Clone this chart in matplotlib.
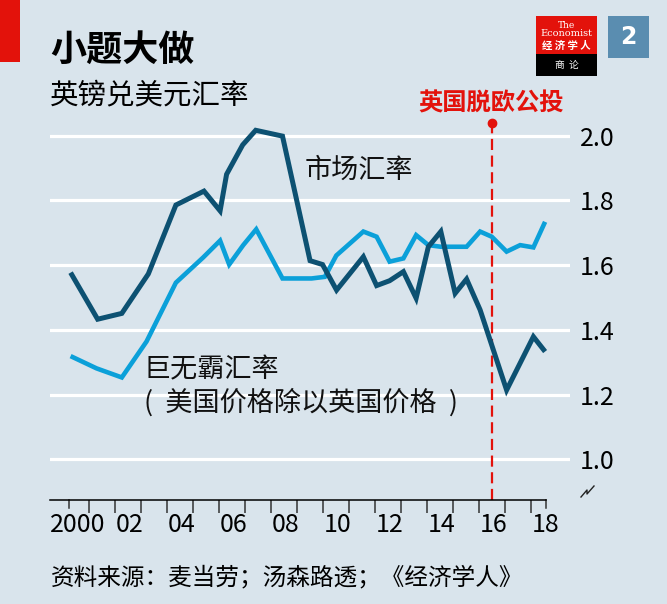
import numpy as np
import matplotlib
matplotlib.use("Agg")
import matplotlib.pyplot as plt
from matplotlib.patches import Rectangle
from matplotlib.lines import Line2D

plt.rcParams['font.family'] = ['Noto Sans CJK SC', 'DejaVu Sans']

# market exchange rate, $ per £
years_market = [2000.28, 2001.32, 2002.25, 2003.27, 2004.33, 2005.41, 2006.03,
                2006.28, 2006.9, 2007.4, 2008.43, 2009.49, 2009.97, 2010.51,
                2011.54, 2012.05, 2012.55, 2013.08, 2013.57, 2014.04, 2014.52,
                2015.07, 2015.51, 2016.03, 2017.05, 2018.08, 2018.53]
market = [1.577, 1.433, 1.451, 1.573, 1.786, 1.829, 1.768,
          1.881, 1.972, 2.017, 1.999, 1.614, 1.602, 1.523,
          1.626, 1.537, 1.552, 1.580, 1.498, 1.657, 1.704,
          1.513, 1.557, 1.462, 1.214, 1.379, 1.333]

# Big Mac implied rate (US price / UK price)
years_bigmac = [2000.28, 2001.28, 2002.25, 2003.2, 2004.33, 2005.38, 2006.03,
                2006.38, 2006.92, 2007.42, 2008.43, 2009.55, 2010.06, 2010.5,
                2011.54, 2012.05, 2012.55, 2013.08, 2013.57, 2014.04, 2014.52,
                2015.07, 2015.51, 2016.03, 2016.48, 2017.05, 2017.57, 2018.08,
                2018.53]
bigmac = [1.319, 1.281, 1.253, 1.364, 1.546, 1.624, 1.676,
          1.602, 1.662, 1.711, 1.559, 1.559, 1.564, 1.630,
          1.704, 1.688, 1.611, 1.621, 1.693, 1.662, 1.657,
          1.657, 1.657, 1.704, 1.688, 1.642, 1.662, 1.655,
          1.734]

brexit_vote = 2016.47
y_ticks = [1.0, 1.2, 1.4, 1.6, 1.8, 2.0]
x_label_years = list(range(2000, 2019, 2))
x_labels = ["2000", "02", "04", "06", "08", "10", "12", "14", "16", "18"]

BG = "#d9e4ec"
DARK = "#0d5172"
LIGHT = "#0ba0d9"
RED = "#e3120b"

W, H = 667, 604
fig = plt.figure(figsize=(W / 100, H / 100), dpi=100, facecolor=BG)


def fx(px):
    return px / W


def fy(py):
    return 1 - py / H


ax = fig.add_axes([fx(50), fy(500), fx(570) - fx(50), fy(120) - fy(500)])
ax.set_facecolor(BG)
ax.set_xlim(1999.488, 2019.488)
ax.set_ylim(0.8742, 2.0488)

for v in y_ticks:
    ax.axhline(v, color="white", lw=2.3, zorder=1)

ax.plot(years_bigmac, bigmac, color=LIGHT, lw=3.3, zorder=3,
        solid_capstyle="butt", solid_joinstyle="miter")
ax.plot(years_market, market, color=DARK, lw=3.6, zorder=4,
        solid_capstyle="butt", solid_joinstyle="miter")

# Brexit referendum marker
ax.plot([brexit_vote, brexit_vote], [0.8742, 2.0396], color=RED, lw=1.6,
        ls=(0, (5, 2.5)), zorder=2, clip_on=False)
ax.plot(brexit_vote, 2.0396, "o", color=RED, ms=6, zorder=5, clip_on=False)
ax.text(brexit_vote, 2.10, "英国脱欧公投", color=RED, fontsize=17.5,
        fontweight="bold", ha="center", va="center")

ax.text(2009.3, 1.894, "市场汇率", fontsize=19.5, ha="left", va="center",
        color="#111111")
ax.text(2003.1, 1.276, "巨无霸汇率", fontsize=19.5, ha="left", va="center",
        color="#111111")
ax.text(2003.1, 1.174, "(  美国价格除以英国价格  )", fontsize=19.5, ha="left",
        va="center", color="#111111")

# axes and ticks
for s in ["top", "left", "right"]:
    ax.spines[s].set_visible(False)
ax.spines["bottom"].set_bounds(1999.488, 2018.57)
ax.spines["bottom"].set_linewidth(1.1)
ax.set_xticks(list(range(2001, 2019)))
ax.set_xticklabels([])
ax.tick_params(axis="x", which="major", length=9, width=1.1, color="#333333")
ax.set_xticks([y + 0.55 for y in x_label_years], minor=True)
ax.set_xticklabels(x_labels, minor=True, fontsize=18)
ax.tick_params(axis="x", which="minor", length=0, pad=9)
# short end ticks
for xe in [2000.23, 2018.57]:
    ax.plot([xe, xe], [0.8742, 0.8742 - 0.026], color="#333333", lw=1.1,
            clip_on=False)

ax.yaxis.tick_right()
ax.set_yticks(y_ticks)
ax.set_yticklabels([f"{v:.1f}" for v in y_ticks], fontsize=18)
ax.tick_params(axis="y", length=0, pad=7)

# axis break mark
fig.add_artist(Line2D([fx(581), fx(587), fx(587), fx(594)],
                      [fy(497), fy(490), fy(494), fy(486)],
                      color="#222222", lw=1.0))

# header
fig.add_artist(Rectangle((0, fy(62)), fx(20), fy(0) - fy(62), color=RED, lw=0))
fig.text(fx(50), fy(50), "小题大做", fontsize=26, fontweight="bold",
         ha="left", va="center")
fig.text(fx(50), fy(95), "英镑兑美元汇率", fontsize=20.5, ha="left",
         va="center")

# logo
fig.add_artist(Rectangle((fx(536), fy(54)), fx(61), fy(16) - fy(54),
                         color=RED, lw=0))
fig.add_artist(Rectangle((fx(536), fy(76)), fx(61), fy(54) - fy(76),
                         color="black", lw=0))
fig.text(fx(566.5), fy(25), "The", color="white", fontsize=6.5,
         family="DejaVu Serif", ha="center", va="center")
fig.text(fx(566.5), fy(34), "Economist", color="white", fontsize=7,
         family="DejaVu Serif", ha="center", va="center")
fig.text(fx(566.5), fy(46), "经 济 学 人", color="white", fontsize=7.5,
         fontweight="bold", ha="center", va="center")
fig.text(fx(566.5), fy(65), "商  论", color="white", fontsize=7,
         ha="center", va="center")
fig.add_artist(Rectangle((fx(608), fy(58)), fx(41), fy(16) - fy(58),
                         color="#5a8db0", lw=0))
fig.text(fx(628.5), fy(37), "2", color="white", fontsize=17,
         fontweight="bold", family="DejaVu Sans", ha="center", va="center")

fig.text(fx(51), fy(578), "资料来源：麦当劳；汤森路透；《经济学人》",
         fontsize=17, ha="left", va="center")

fig.savefig("out.png", dpi=100, facecolor=BG)
